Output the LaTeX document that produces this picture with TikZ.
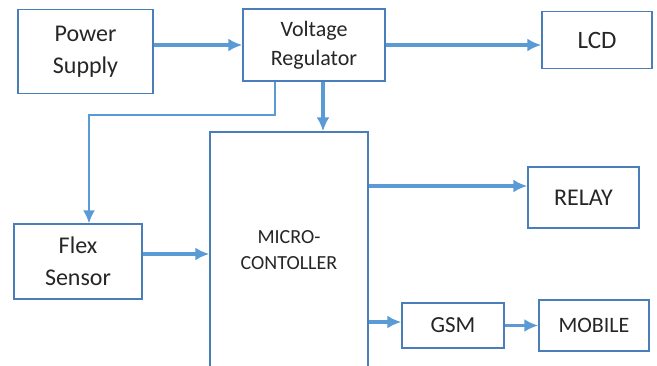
\documentclass[tikz,border=0pt]{standalone}
\usepackage{fontspec}
\setmainfont{Carlito}
\usepackage{xcolor}
\usetikzlibrary{arrows.meta}
\definecolor{wordblue}{HTML}{5B9BD5}
\definecolor{boxedge}{HTML}{4A7EBB}

\begin{document}
\begin{tikzpicture}[x=1pt, y=-1pt, thick]
    \tikzstyle{block} = [rectangle, draw=boxedge, line width=1.4pt, text centered, align=center, inner sep=0pt, fill=white, text=black!85, font=\fontsize{24}{32}\selectfont]
    \tikzstyle{line} = [draw=wordblue, line width=3.2pt, -{Latex[length=14pt,width=13pt]}]
    \tikzstyle{thinline} = [draw=wordblue, line width=1.8pt, -{Latex[length=13pt,width=12pt]}]

    \useasboundingbox (0,0) rectangle (657,365);

    \node [block, minimum width=135pt, minimum height=84pt] (ps) at (85.5,51.5) {Power\\Supply};
    \node [block, minimum width=142pt, minimum height=72pt, font=\fontsize{22}{29}\selectfont] (vr) at (314,45) {Voltage\\Regulator};
    \node [block, minimum width=110pt, minimum height=57pt, font=\fontsize{25}{30}\selectfont] (lcd) at (597,40) {LCD};
    \node [block, minimum width=128pt, minimum height=75pt] (flex) at (78,261.5) {Flex\\Sensor};
    \node [block, minimum width=158pt, minimum height=236pt, font=\fontsize{20}{26}\selectfont] (mc) at (289,250) {MICRO-\\CONTOLLER};
    \node [block, minimum width=111pt, minimum height=61pt] (rl) at (583.5,197.5) {RELAY};
    \node [block, minimum width=102pt, minimum height=45pt, font=\fontsize{23}{28}\selectfont] (gsm) at (453,325.5) {GSM};
    \node [block, minimum width=110pt, minimum height=51pt, font=\fontsize{22}{28}\selectfont] (mob) at (594,325.5) {MOBILE};

    \path [line] (ps.east |- vr.west) -- (vr.west);
    \path [line] (vr.east) -- (vr.east -| lcd.west);
    \path [thinline] ([xshift=-39pt]vr.south) -- ++(0,33) -| ([xshift=11pt]flex.north);
    \path [line] ([xshift=9pt]vr.south) -- ([xshift=9pt]vr.south |- mc.north);
    \path [line] ([yshift=7.5pt]flex.east) -- ([yshift=7.5pt]flex.east -| mc.west);
    \path [line] ([yshift=11.5pt]rl.west -| mc.east) -- ([yshift=11.5pt]rl.west);
    \path [line] ([yshift=3.5pt]gsm.west -| mc.east) -- ([yshift=3.5pt]gsm.west);
    \path [line] (gsm.east) -- (mob.west);
\end{tikzpicture}
\end{document}
